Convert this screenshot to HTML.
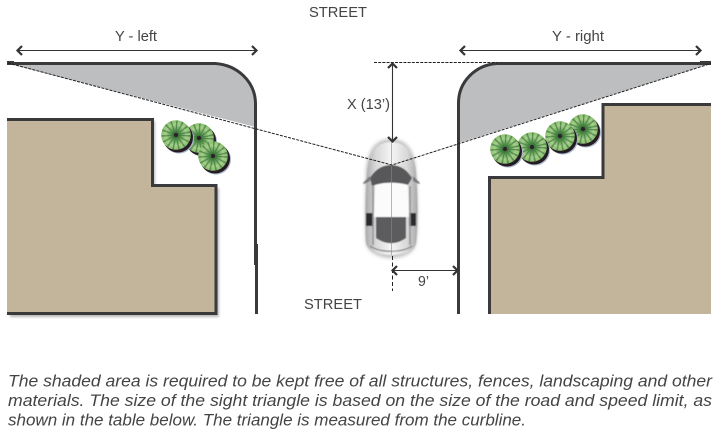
<!DOCTYPE html>
<html><head><meta charset="utf-8"><style>
html,body{margin:0;padding:0;background:#fff;width:723px;height:435px;overflow:hidden}
svg{display:block}
text{font-family:"Liberation Sans",sans-serif;fill:#444}
</style></head><body>
<svg width="723" height="435" viewBox="0 0 723 435" xmlns="http://www.w3.org/2000/svg">
<defs>
<radialGradient id="leaf" cx="50%" cy="50%" r="50%"><stop offset="0" stop-color="#2f4f2c"/><stop offset=".3" stop-color="#4f8f48"/><stop offset=".7" stop-color="#a5d08a"/><stop offset="1" stop-color="#8cc070"/></radialGradient>
<filter id="t" x="-10%" y="-10%" width="120%" height="120%"><feGaussianBlur stdDeviation=".35"/></filter>
<g id="tree">
<circle cx="3" cy="3.500" r="15" fill="#a9b6ca"/>
<circle cx="2" cy="2.500" r="15" fill="#241c22"/>
<g filter="url(#t)">
<circle r="14.800" fill="url(#leaf)"/>
<circle r="8" fill="none" stroke="#356b38" stroke-width="13" stroke-dasharray="1.100 2.300" opacity=".6"/>
</g>
<circle r="2" fill="#2b1f28"/>
</g>
<filter id="sh" x="-5%" y="-5%" width="112%" height="112%"><feGaussianBlur stdDeviation="1.2"/></filter>
<filter id="b1" x="-20%" y="-20%" width="140%" height="140%"><feGaussianBlur stdDeviation="1.800"/></filter>
<filter id="b2" x="-10%" y="-10%" width="120%" height="120%"><feGaussianBlur stdDeviation=".5"/></filter>
<linearGradient id="roof" x1="0" y1="0" x2="1" y2="0"><stop offset="0" stop-color="#a9a9a9"/><stop offset=".2" stop-color="#d8d8d8"/><stop offset=".5" stop-color="#f5f5f5"/><stop offset=".8" stop-color="#d8d8d8"/><stop offset="1" stop-color="#a9a9a9"/></linearGradient>
</defs>

<!-- shaded triangles -->
<path d="M7 63.500H215C238 65 255 82 255.500 103V127Z" fill="#bcbec0"/>
<path d="M711 63.500H497C475 65 458.500 82 458.500 103V143Z" fill="#bcbec0"/>

<!-- buildings -->
<path d="M7 118H152V185H216V314H7Z" transform="translate(3 3)" fill="#9a9a9a" filter="url(#sh)" opacity=".7"/>
<rect x="0" y="100" width="7" height="230" fill="#fff"/>
<path d="M7 119.500H152.500V185.500H216V313.500H7Z" fill="#c3b59c"/>
<path d="M7 119.500H152.500V185.500H216V313.500H7" fill="none" stroke="#3a3a3c" stroke-width="3"/>
<path d="M711 104.500H603V177.500H489.500V314H711Z" fill="#c3b59c"/>
<path d="M711 104.500H603V177.500H489.500V314" fill="none" stroke="#3a3a3c" stroke-width="3"/>

<!-- curbs -->
<path d="M7 63.500H215C238 65 255 82 255.500 103V265" fill="none" stroke="#3a3a3c" stroke-width="3"/>
<path d="M256.500 244V314" fill="none" stroke="#3a3a3c" stroke-width="3"/>
<path d="M711 63.500H497C475 65 458.500 82 458.500 103V314" fill="none" stroke="#3a3a3c" stroke-width="3"/>
<rect x="7" y="61" width="7" height="4" fill="#3a3a3c"/>
<rect x="700" y="61" width="11" height="4" fill="#3a3a3c"/>

<!-- trees -->
<use href="#tree" x="199" y="138"/>
<use href="#tree" x="176" y="135"/>
<use href="#tree" x="213" y="156"/>
<use href="#tree" x="583" y="129"/>
<use href="#tree" x="560" y="136"/>
<use href="#tree" x="532" y="147"/>
<use href="#tree" x="505" y="149"/>

<!-- car -->
<g>
<path d="M391 139C374 139 367 152 366 172C365 200 365 225 366 243C368 253 380 258 391 258C403 258 415 253 416 243C418 225 418 200 416 172C415 152 408 139 391 139Z" fill="#9a9a9a" filter="url(#b1)" opacity=".6"/>
<g filter="url(#b2)">
<path d="M391 142C376 142 369 153 367 172C365 200 365 225 366 243C368 252 380 255 391 255C403 255 414 252 416 243C418 225 418 200 416 172C414 153 406 142 391 142Z" fill="url(#roof)"/>
<path d="M363 183L370 176V181L364 184Z" fill="#777"/><path d="M420 183L413 176V181L419 184Z" fill="#777"/>
<path d="M370 178C376 168 384 165 391 165C398 165 406 168 412 178L408 185C398 182 384 182 375 185L372 186Z" fill="#58585a"/>
<path d="M375 185C384 182 398 182 408 185L409 217H374Z" fill="#fbfbfb"/>
<path d="M376 217H406V238C396 245 386 245 376 238Z" fill="#5c5c5e"/>
<rect x="366" y="213" width="7" height="13" fill="#2c2c2e"/>
<rect x="409" y="213" width="7" height="13" fill="#2c2c2e"/>
<path d="M373 186V245M410 186V245" stroke="#8f8f8f" stroke-width="1.500" fill="none"/>
<path d="M370 246C380 253 402 253 412 246" stroke="#666" stroke-width="1" fill="none"/>
</g>
<path d="M391.500 142V255" stroke="#888" stroke-width=".6" fill="none"/>
</g>

<!-- dashed lines -->
<g fill="none" stroke="#222" stroke-width="1" stroke-dasharray="3 1.200">
<path d="M8 63L392 165L711 63.500"/>
<path d="M374 62.500H497"/>
<path d="M392.500 256V291" stroke-dasharray="4 2.500"/>
</g>

<!-- dimension arrows -->
<g fill="none" stroke="#333" stroke-width="1.100">
<path d="M18 50.500H256"/><path d="M460 50.500H701"/><path d="M392.500 64V141"/><path d="M393 270.500H457"/>
</g>
<g fill="none" stroke="#333" stroke-width="2.200">
<path d="M22 46L17.500 50.500L22 55"/><path d="M252 46L256.500 50.500L252 55"/>
<path d="M465 46L460.500 50.500L465 55"/><path d="M696 46L700.500 50.500L696 55"/>
<path d="M388 68L392.500 63.500L397 68"/><path d="M388 137L392.500 141.500L397 137"/>
<path d="M397 266L392.500 270.500L397 275"/><path d="M453 266L457.500 270.500L453 275"/>
</g>

<!-- labels -->
<text x="309" y="17" font-size="14.500" textLength="58" lengthAdjust="spacingAndGlyphs">STREET</text>
<text x="304" y="309" font-size="14.500" textLength="58" lengthAdjust="spacingAndGlyphs">STREET</text>
<text x="115" y="41" font-size="15" textLength="42" lengthAdjust="spacingAndGlyphs">Y - left</text>
<text x="552" y="41" font-size="15" textLength="52" lengthAdjust="spacingAndGlyphs">Y - right</text>
<text x="347" y="109" font-size="15" textLength="43" lengthAdjust="spacingAndGlyphs">X (13’)</text>
<text x="418" y="286" font-size="14.500" textLength="11" lengthAdjust="spacingAndGlyphs">9’</text>

<g font-size="17" font-style="italic">
<text x="8" y="386.500" textLength="704" lengthAdjust="spacingAndGlyphs">The shaded area is required to be kept free of all structures, fences, landscaping and other</text>
<text x="8" y="406" textLength="704" lengthAdjust="spacingAndGlyphs">materials. The size of the sight triangle is based on the size of the road and speed limit, as</text>
<text x="8" y="425.500" textLength="518" lengthAdjust="spacingAndGlyphs">shown in the table below. The triangle is measured from the curbline.</text>
</g>
</svg>
</body></html>
